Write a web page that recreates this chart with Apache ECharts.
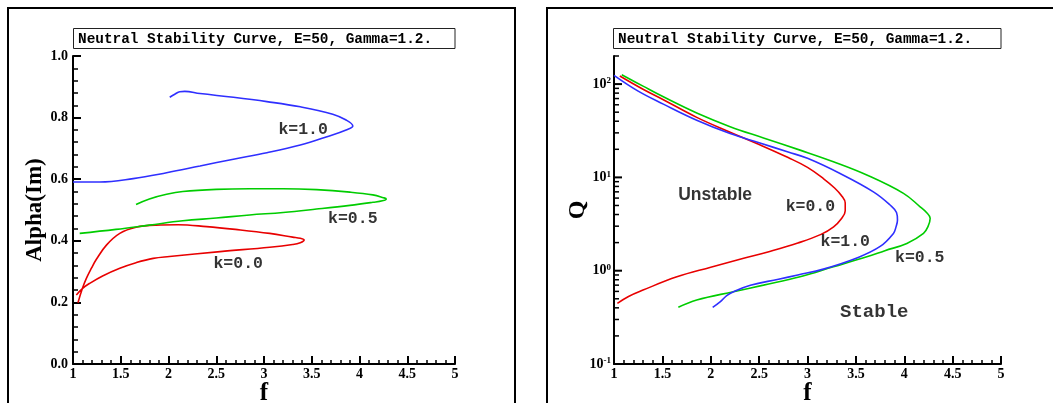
<!DOCTYPE html>
<html><head><meta charset="utf-8">
<script src="https://cdn.jsdelivr.net/npm/echarts@6/dist/echarts.min.js"></script>
<style>html,body{margin:0;padding:0;background:#fff}#c{width:1053px;height:403px}</style>
</head><body><div id="c"></div><script>
// ---------- data ----------
const TITLE = 'Neutral Stability Curve, E=50, Gamma=1.2.';
const seriesNames = ['k=0.0', 'k=0.5', 'k=1.0'];
const seriesColors = ['#e80000', '#00cc00', '#2f2fff'];

// Left panel: f vs Alpha(Im)
const alphaK00 = [[1.052,0.199],[1.098,0.245],[1.14,0.278],[1.193,0.311],[1.245,0.340],[1.35,0.386],[1.49,0.424],[1.66,0.444],[1.87,0.451],[2.1,0.452],[2.4,0.446],[2.7,0.437],[3.06,0.424],[3.3,0.412],[3.38,0.408],[3.42,0.403],[3.38,0.394],[3.3,0.388],[3.06,0.379],[2.54,0.365],[2.01,0.349],[1.84,0.343],[1.66,0.329],[1.49,0.311],[1.31,0.286],[1.175,0.262],[1.098,0.245],[1.035,0.224]];
const alphaK05 = [[1.66,0.518],[1.80,0.536],[1.98,0.551],[2.15,0.560],[2.50,0.567],[2.85,0.569],[3.20,0.569],[3.55,0.566],[3.90,0.558],[4.14,0.549],[4.25,0.540],[4.28,0.536],[4.24,0.530],[4.14,0.525],[3.90,0.515],[3.55,0.503],[3.20,0.492],[2.85,0.484],[2.50,0.474],[2.15,0.465],[1.80,0.451],[1.45,0.437],[1.07,0.424]];
const alphaK10 = [[2.013,0.866],[2.066,0.876],[2.118,0.884],[2.17,0.885],[2.33,0.878],[2.68,0.866],[3.03,0.852],[3.38,0.835],[3.72,0.811],[3.86,0.792],[3.93,0.773],[3.86,0.760],[3.66,0.738],[3.38,0.711],[3.03,0.686],[2.68,0.665],[2.33,0.643],[1.98,0.621],[1.63,0.602],[1.28,0.591],[1.0,0.591]];

// Right panel: f vs Q (log)
const qK00 = [[1.06,122],[1.3,88],[1.51,68],[1.855,44],[2.2,30.5],[2.5,22.5],[2.8,16.3],[3.0,12.8],[3.17,9.6],[3.28,7.7],[3.35,6.4],[3.39,5.3],[3.39,4.4],[3.35,3.6],[3.27,2.95],[3.14,2.45],[2.9,1.98],[2.6,1.6],[2.34,1.36],[2.0,1.09],[1.65,0.86],[1.3,0.62],[1.15,0.53],[1.035,0.447]];
const qK05 = [[1.08,126],[1.3,95],[1.51,73],[1.855,49],[2.2,35],[2.545,26.5],[2.923,19.6],[3.268,14.7],[3.613,10.6],[3.992,6.74],[4.164,4.84],[4.23,4.2],[4.268,3.64],[4.247,3.0],[4.199,2.51],[4.027,1.96],[3.8,1.64],[3.613,1.41],[3.268,1.10],[2.923,0.86],[2.545,0.70],[2.235,0.596],[1.855,0.485],[1.665,0.405]];
const qK10 = [[1.0,124],[1.25,84],[1.51,61],[1.855,41],[2.2,29.5],[2.5,23.5],[2.8,18.7],[3.0,16.0],[3.337,11.0],[3.681,7.0],[3.854,5.06],[3.92,4.2],[3.93,3.5],[3.915,2.95],[3.888,2.51],[3.751,1.82],[3.51,1.37],[3.164,1.04],[2.9,0.9],[2.7,0.81],[2.41,0.70],[2.235,0.596],[2.165,0.54],[2.10,0.466],[2.02,0.405]];

// Annotations (data coordinates)
const alphaNotes = [['k=1.0',3.41,0.760],['k=0.5',3.93,0.471],['k=0.0',2.73,0.325]];
const qNotesMono = [['k=0.0',3.03,4.81],['k=1.0',3.39,2.03],['k=0.5',4.16,1.37]];
const qNoteUnstable = [['Unstable',2.045,6.47]];
const qNoteStable = [['Stable',3.69,0.36]];

// Axis ticks
const fMin = 1, fMax = 5, fStep = 0.5;
const alphaMin = 0, alphaMax = 1, alphaStep = 0.2;
const qMin = 0.1, qMax = 200;
const qMajorTicks = [0.1, 1, 10, 100];
const qMinorTicks = [0.2,0.3,0.4,0.5,0.6,0.7,0.8,0.9,2,3,4,5,6,7,8,9,20,30,40,50,60,70,80,90,200];

// ---------- styles ----------
const SERIF = "'Liberation Serif','Times New Roman',serif";
const MONO = "'Liberation Mono','Courier New',monospace";
const SANS = "'Liberation Sans',Arial,sans-serif";
const tickLabel = {color:'#000', fontFamily:SERIF, fontWeight:'bold', fontSize:14};

function xAxisCfg(gi){
  return {
    gridIndex: gi, type:'value', min:fMin, max:fMax, interval:fStep,
    name:'f', nameLocation:'middle', nameGap:17, nameMoveOverlap:false,
    nameTextStyle:{color:'#000', fontFamily:SERIF, fontWeight:'bold', fontSize:25},
    axisLine:{show:true, onZero:false, lineStyle:{color:'#000', width:2}},
    axisTick:{show:true, inside:true, length:8, lineStyle:{color:'#000', width:2}},
    minorTick:{show:true, splitNumber:5, length:4, lineStyle:{color:'#000', width:1.5}},
    splitLine:{show:false}, minorSplitLine:{show:false},
    axisLabel:Object.assign({margin:3, showMinLabel:true, showMaxLabel:true, formatter:v=>String(+v.toFixed(1))}, tickLabel)
  };
}

function lineSeries(xi, yi, data, color){
  return {type:'line', xAxisIndex:xi, yAxisIndex:yi, data:data, showSymbol:false, symbol:'none',
    smooth:0.4, silent:true, clip:true, lineStyle:{color:color, width:1.6}, z:3};
}
function noteSeries(xi, yi, notes, font){
  return {type:'scatter', xAxisIndex:xi, yAxisIndex:yi, silent:true, symbolSize:1,
    itemStyle:{color:'rgba(0,0,0,0)'},
    data: notes.map(n=>({name:n[0], value:[n[1], n[2]]})),
    label:Object.assign({show:true, position:'inside', formatter:'{b}', color:'#000', textBorderWidth:0}, font), z:5};
}
function logTickSeries(values, len, width){
  return {type:'custom', xAxisIndex:1, yAxisIndex:1, silent:true, clip:false, z:6,
    data: values.map(v=>[fMin, v]),
    renderItem:(params, api)=>{
      const p = api.coord([api.value(0), api.value(1)]);
      return {type:'line', shape:{x1:p[0], y1:p[1], x2:p[0]+len, y2:p[1]},
        style:{stroke:'#000', lineWidth:width}};
    }};
}

const chart = echarts.init(document.getElementById('c'), null, {renderer:'canvas'});
chart.setOption({
  backgroundColor:'#fff',
  animation:false,
  grid:[
    {left:73, right:598, top:56, bottom:39, containLabel:false, outerBoundsMode:'none'},
    {left:614, right:52, top:56, bottom:39, containLabel:false, outerBoundsMode:'none'}
  ],
  xAxis:[xAxisCfg(0), xAxisCfg(1)],
  yAxis:[
    {gridIndex:0, type:'value', min:alphaMin, max:alphaMax, interval:alphaStep,
     name:'Alpha(Im)', nameLocation:'middle', nameGap:26, nameRotate:90, nameMoveOverlap:false,
     nameTextStyle:{color:'#000', fontFamily:SERIF, fontWeight:'bold', fontSize:23},
     axisLine:{show:true, onZero:false, lineStyle:{color:'#000', width:2}},
     axisTick:{show:true, inside:true, length:8, lineStyle:{color:'#000', width:2}},
     minorTick:{show:true, splitNumber:5, length:5, lineStyle:{color:'#000', width:1.5}},
     splitLine:{show:false}, minorSplitLine:{show:false},
     axisLabel:Object.assign({margin:5, formatter:v=>v.toFixed(1)}, tickLabel)},
    {gridIndex:1, type:'log', logBase:10, min:qMin, max:qMax,
     name:'Q', nameLocation:'middle', nameGap:24, nameRotate:90, nameMoveOverlap:false,
     nameTextStyle:{color:'#000', fontFamily:SERIF, fontWeight:'bold', fontSize:24},
     axisLine:{show:true, onZero:false, lineStyle:{color:'#000', width:2}},
     axisTick:{show:false},
     splitLine:{show:false},
     axisLabel:{margin:3, showMaxLabel:false,
       formatter:v=>{const e=Math.log10(v); if(Math.abs(e-Math.round(e))>1e-6) return ''; return '{b|10}{s|'+Math.round(e)+'}';},
       rich:{
         b:{color:'#000', fontFamily:SERIF, fontWeight:'bold', fontSize:14},
         s:{color:'#000', fontFamily:SERIF, fontWeight:'bold', fontSize:9, verticalAlign:'top', padding:[0,0,6,0]}
       }}}
  ],
  series:[
    lineSeries(0,0,alphaK00,seriesColors[0]),
    lineSeries(0,0,alphaK05,seriesColors[1]),
    lineSeries(0,0,alphaK10,seriesColors[2]),
    lineSeries(1,1,qK00,seriesColors[0]),
    lineSeries(1,1,qK05,seriesColors[1]),
    lineSeries(1,1,qK10,seriesColors[2]),
    noteSeries(0,0,alphaNotes,{fontFamily:MONO, fontWeight:'bold', fontSize:16.5}),
    noteSeries(1,1,qNotesMono,{fontFamily:MONO, fontWeight:'bold', fontSize:16.5}),
    noteSeries(1,1,qNoteUnstable,{fontFamily:SANS, fontWeight:'bold', fontSize:17.5}),
    noteSeries(1,1,qNoteStable,{fontFamily:MONO, fontWeight:'bold', fontSize:19}),
    logTickSeries(qMajorTicks, 8, 2),
    logTickSeries(qMinorTicks, 5, 1.5)
  ],
  graphic:[
    {type:'rect', shape:{x:8, y:8, width:507, height:430}, style:{fill:'none', stroke:'#000', lineWidth:2}, silent:true},
    {type:'rect', shape:{x:547, y:8, width:530, height:430}, style:{fill:'none', stroke:'#000', lineWidth:2}, silent:true},
    {type:'rect', shape:{x:73.5, y:28.5, width:381.5, height:20}, style:{fill:'#fff', stroke:'#222', lineWidth:1}, silent:true},
    {type:'text', x:78, y:39, style:{text:TITLE, fill:'#000', font:"bold 14.4px "+MONO, textVerticalAlign:'middle', verticalAlign:'middle'}, silent:true},
    {type:'rect', shape:{x:613.5, y:28.5, width:387.5, height:20}, style:{fill:'#fff', stroke:'#222', lineWidth:1}, silent:true},
    {type:'text', x:618, y:39, style:{text:TITLE, fill:'#000', font:"bold 14.4px "+MONO, textVerticalAlign:'middle', verticalAlign:'middle'}, silent:true}
  ]
});
</script></body></html>
